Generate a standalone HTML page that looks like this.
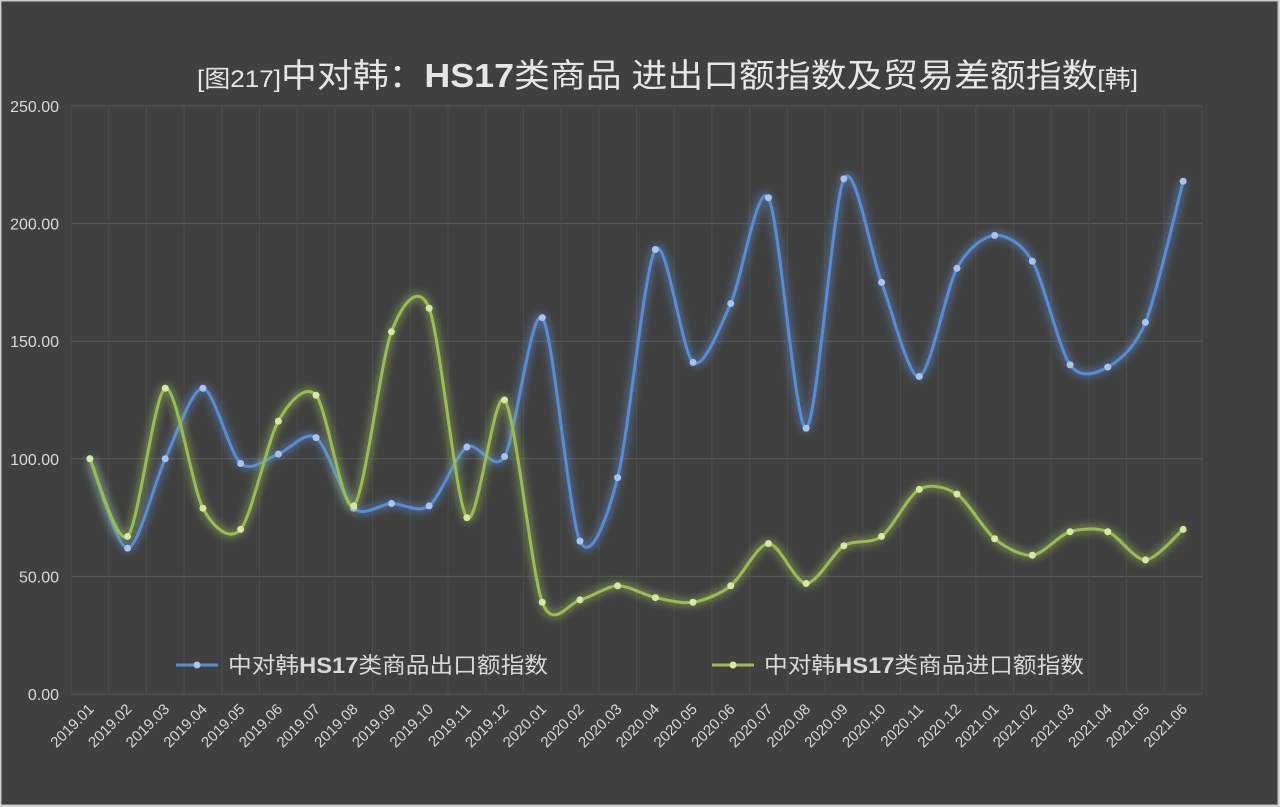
<!DOCTYPE html>
<html><head><meta charset="utf-8"><style>
html,body{margin:0;padding:0;background:#d9d9d9;}
svg{display:block;}
text{font-family:"Liberation Sans","Noto Sans CJK SC",sans-serif;}
</style></head><body>
<svg id="chart" width="1280" height="807">
<defs>
<filter id="glow" x="-10%" y="-10%" width="120%" height="120%"><feGaussianBlur stdDeviation="4"/></filter>
</defs>
<rect x="1" y="1" width="1277" height="804" fill="#404040" stroke="#bfbfbf"/>
<text x="197" y="87" font-size="33" fill="#e6e6e6" textLength="941" lengthAdjust="spacingAndGlyphs"><tspan font-size="24">[图217]</tspan>中对韩：<tspan font-weight="bold">HS17</tspan>类商品 进出口额指数及贸易差额指数<tspan font-size="24">[韩]</tspan></text>
<g id="grid"></g><g id="axes"></g><g id="series"></g>
<g>
<line x1="176" y1="665" x2="218" y2="665" stroke="#5b8bd0" stroke-width="3"/><circle cx="197" cy="665" r="3.5" fill="#a9c4ec"/>
<text x="228" y="673" font-size="22" fill="#d9d9d9" textLength="320" lengthAdjust="spacingAndGlyphs">中对韩<tspan font-weight="bold">HS17</tspan>类商品出口额指数</text>
<line x1="712" y1="665" x2="754" y2="665" stroke="#9bbb59" stroke-width="3"/><circle cx="733" cy="665" r="3.5" fill="#d7e8a6"/>
<text x="764" y="673" font-size="22" fill="#d9d9d9" textLength="320" lengthAdjust="spacingAndGlyphs">中对韩<tspan font-weight="bold">HS17</tspan>类商品进口额指数</text>
</g>
</svg>
<script>
const categories=["2019.01","2019.02","2019.03","2019.04","2019.05","2019.06","2019.07","2019.08","2019.09","2019.10","2019.11","2019.12","2020.01","2020.02","2020.03","2020.04","2020.05","2020.06","2020.07","2020.08","2020.09","2020.10","2020.11","2020.12","2021.01","2021.02","2021.03","2021.04","2021.05","2021.06"];
const exportValues=[100,62,100,130,98,102,109,79,81,80,105,101,160,65,92,189,141,166,211,113,219,175,135,181,195,184,140,139,158,218];
const importValues=[100,67,130,79,70,116,127,80,154,164,75,125,39,40,46,41,39,46,64,47,63,67,87,85,66,59,69,69,57,70];
const yTicks=[0,50,100,150,200,250];
const NS="http://www.w3.org/2000/svg";
const L=71,R=1202,T=106,B=694,yMax=250;
const step=(R-L)/categories.length;
const xs=i=>L+step*(i+0.5);
const ys=v=>B-(v/yMax)*(B-T);
function mk(tag,attrs,parent){const e=document.createElementNS(NS,tag);for(const k in attrs)e.setAttribute(k,attrs[k]);parent.appendChild(e);return e;}
const grid=document.getElementById('grid'),axes=document.getElementById('axes'),series=document.getElementById('series');
yTicks.forEach(t=>{
 const l=mk('line',{x1:L,x2:R,y1:ys(t),y2:ys(t),stroke:'#595959','stroke-width':1},grid);
 
 
 const tx=mk('text',{x:59,y:ys(t)+6,'text-anchor':'end','font-size':16,fill:'#d9d9d9'},axes);
 tx.textContent=t.toFixed(2);
 
 
});
for(let i=0;i<=categories.length;i++){
 const l=mk('line',{x1:L+step*i,x2:L+step*i,y1:T,y2:B,stroke:'#4d4d4d','stroke-width':1},grid);
 
 
}
categories.forEach((c,i)=>{
 const x=xs(i)+5,y=B+16;
 const tx=mk('text',{x:x,y:y,'text-anchor':'end','font-size':15,fill:'#d9d9d9',transform:`rotate(-45 ${x} ${y})`},axes);
 tx.textContent=c;
 
 
});
function path(vals){
 const p=vals.map((v,i)=>[xs(i),ys(v)]);
 let d=`M${p[0][0]},${p[0][1]}`;
 const k=7;
 for(let i=0;i<p.length-1;i++){
  const p0=p[i-1]||p[i],p1=p[i],p2=p[i+1],p3=p[i+2]||p[i+1];
  const c1=[p1[0]+(p2[0]-p0[0])/k,p1[1]+(p2[1]-p0[1])/k];
  const c2=[p2[0]-(p3[0]-p1[0])/k,p2[1]-(p3[1]-p1[1])/k];
  d+=` C${c1[0]},${c1[1]} ${c2[0]},${c2[1]} ${p2[0]},${p2[1]}`;
 }
 return d;
}
function draw(vals,color,pt,name){
 const g=mk('g',{},series);
 
 
 mk('path',{d:path(vals),fill:'none',stroke:color,'stroke-width':8,opacity:0.5,filter:'url(#glow)'},g);
 const ln=mk('path',{d:path(vals),fill:'none',stroke:color,'stroke-width':3},g);
 
 
 vals.forEach((v,i)=>{
  const c=mk('circle',{cx:xs(i),cy:ys(v),r:3.5,fill:pt},g);
  
  
 });
}
draw(exportValues,'#5b8bd0','#a9c4ec','export-series');
draw(importValues,'#9bbb59','#d7e8a6','import-series');
</script>
</body></html>
